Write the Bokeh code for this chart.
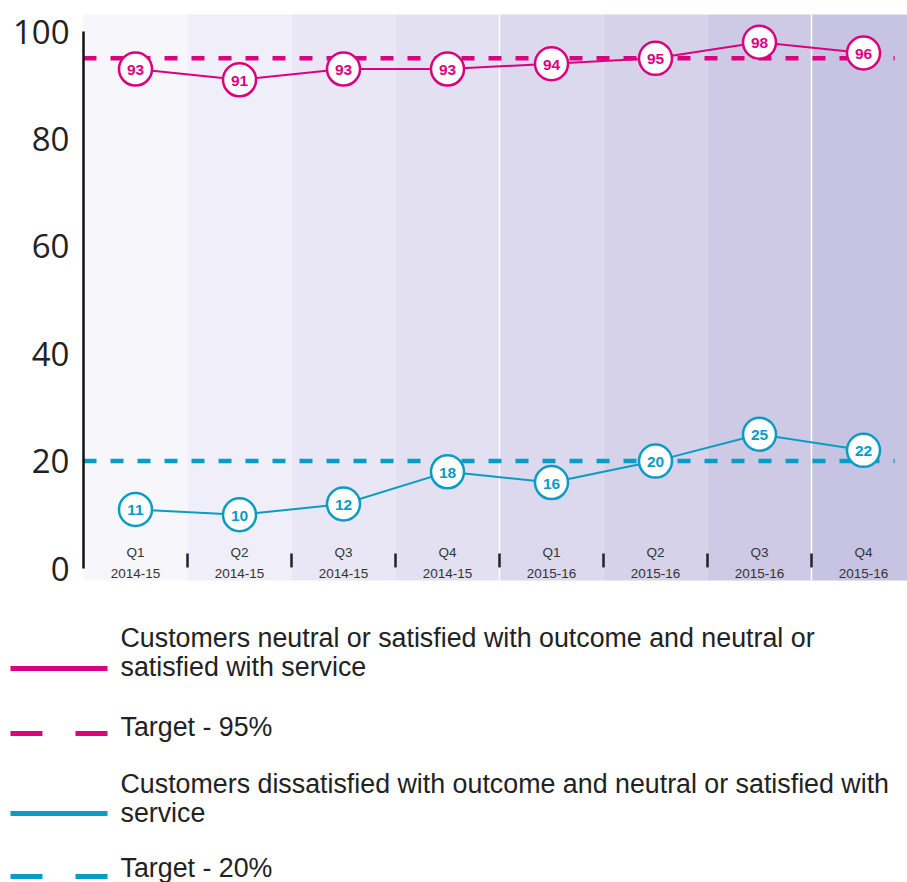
from bokeh.plotting import figure
from bokeh.models import Range1d, LinearAxis, FixedTicker, ColumnDataSource
from bokeh.core.properties import value
from bokeh.embed import file_html
from bokeh.resources import INLINE

# ---- data ----
quarters = ["Q1", "Q2", "Q3", "Q4", "Q1", "Q2", "Q3", "Q4"]
years = ["2014-15", "2014-15", "2014-15", "2014-15", "2015-16", "2015-16", "2015-16", "2015-16"]
satisfied = [93, 91, 93, 93, 94, 95, 98, 96]
dissatisfied = [11, 10, 12, 18, 16, 20, 25, 22]
target_satisfied = 95
target_dissatisfied = 20
band_colors = ["#f7f6fb", "#f0eef8", "#e9e7f5", "#e3e0f1", "#dcd9ee", "#d6d2e9", "#cec9e5", "#c7c3e2"]
y_ticks = [0, 20, 40, 60, 80, 100]
legend_labels = [
    ["Customers neutral or satisfied with outcome and neutral or", "satisfied with service"],
    ["Target - 95%"],
    ["Customers dissatisfied with outcome and neutral or satisfied with", "service"],
    ["Target - 20%"],
]

PINK = "#d9037f"
BLUE = "#0a9cc4"
TXT = "#222222"

W, H = 907, 882
PX_X = 104.0          # pixels per quarter
PX_Y = 5.37           # pixels per percentage point
X0_PX, Y0_PX = 83, 568  # pixel of x=-0.5 and y=0

xs = list(range(len(quarters)))
x_start = -0.5 - X0_PX / PX_X
y_top = Y0_PX / PX_Y
y_bot = -(H - Y0_PX) / PX_Y
band_lo, band_hi = -12 / PX_Y, (Y0_PX - 14) / PX_Y

p = figure(width=W, height=H, x_range=Range1d(x_start, x_start + W / PX_X),
           y_range=Range1d(y_bot, y_top),
           output_backend="svg", toolbar_location=None,
           x_axis_location=None, y_axis_location=None,
           min_border_left=0, min_border_right=0, min_border_top=0, min_border_bottom=0)
p.outline_line_color = None
p.xgrid.visible = False
p.ygrid.visible = False
p.background_fill_color = "white"
p.border_fill_color = "white"
p.extra_x_ranges = {"px": Range1d(0, W)}
p.extra_y_ranges = {"px": Range1d(H, 0)}

# bands
band_src = ColumnDataSource(dict(left=[x - 0.5 for x in xs], right=[x + 0.5 for x in xs],
                                 bottom=[band_lo] * len(xs), top=[band_hi] * len(xs),
                                 color=band_colors))
p.quad(left="left", right="right", bottom="bottom", top="top", fill_color="color",
       line_color=None, source=band_src)

# white separators
for loc in [3.5, 6.5]:
    p.segment(x0=[loc], x1=[loc], y0=[band_lo], y1=[band_hi], line_color="white", line_width=1.5)

# x tick marks
tick_x = [x + 0.5 for x in xs[:-1]]
p.segment(x0=tick_x, x1=tick_x, y0=[2.8] * len(tick_x), y1=[0.2] * len(tick_x),
          line_color=TXT, line_width=2.5)

# x labels
p.text(x=xs, y=[2.9] * len(xs), text=quarters, text_font=value("Liberation Sans"),
       text_font_size="13.5px", text_color="#333333", text_align="center", text_baseline="middle")
p.text(x=xs, y=[-0.95] * len(xs), text=years, text_font=value("Liberation Sans"),
       text_font_size="13.5px", text_color="#333333", text_align="center", text_baseline="middle")

# targets
p.line(x=[-0.5, 7.3], y=[target_satisfied] * 2, line_color=PINK, line_width=4.5, line_dash="13 14")
p.line(x=[-0.5, 7.3], y=[target_dissatisfied] * 2, line_color=BLUE, line_width=4.5, line_dash="13 14")

# series
for vals, col in [(satisfied, PINK), (dissatisfied, BLUE)]:
    p.line(x=xs, y=vals, line_color=col, line_width=2)
    p.scatter(x=xs, y=vals, size=33, fill_color="white", line_color=col, line_width=2.5)
    p.text(x=xs, y=vals, text=[str(v) for v in vals], text_font=value("Liberation Sans"),
           text_font_style="bold", text_font_size="15.5px", text_color=col,
           text_align="center", text_baseline="middle", y_offset=1)

# y axis (drawn at the left edge of the bands)
yaxis = LinearAxis(bounds=(0, 100), ticker=FixedTicker(ticks=y_ticks), fixed_location=-0.5)
yaxis.axis_line_color = "#111111"
yaxis.axis_line_width = 2.5
yaxis.major_tick_line_color = None
yaxis.minor_tick_line_color = None
yaxis.major_tick_out = 0
yaxis.major_tick_in = 0
yaxis.major_label_standoff = 14
yaxis.major_label_text_font = "Open Sans"
yaxis.major_label_text_font_size = "33px"
yaxis.major_label_text_color = TXT
p.add_layout(yaxis, "left")

# ---- legend (pixel coordinates) ----
legend_colors = [PINK, PINK, BLUE, BLUE]
legend_dash = ["solid", "32 33", "solid", "32 33"]
legend_text_y = [[637, 666], [726], [783, 812], [867]]
legend_line_y = [668, 733, 813, 876]
for labels, col, dash, ty, ly in zip(legend_labels, legend_colors, legend_dash, legend_text_y, legend_line_y):
    p.line(x=[10, 107], y=[ly, ly], line_color=col, line_width=5, line_dash=dash,
           x_range_name="px", y_range_name="px")
    p.text(x=[120] * len(labels), y=ty, text=labels, text_font=value("Liberation Sans"),
           text_font_size="26.8px", text_color=TXT, text_align="left", text_baseline="middle",
           x_range_name="px", y_range_name="px")

open("out.html", "w").write(file_html(p, INLINE))
